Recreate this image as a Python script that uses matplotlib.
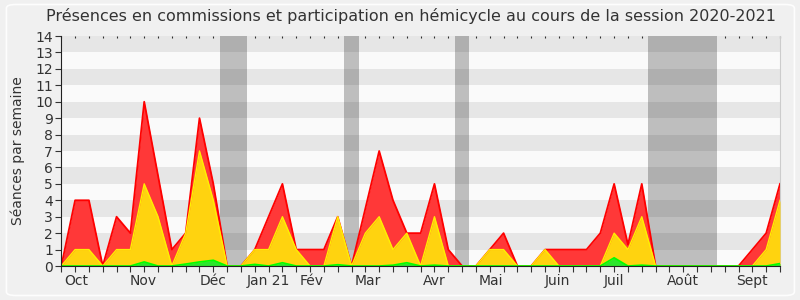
import numpy as np
import matplotlib.pyplot as plt
from matplotlib.patches import FancyBboxPatch

# one point per week of the 2020-2021 session
weeks = np.arange(53)

# top of the red layer (total)
total = [0, 4, 4, 0, 3, 2, 10, 5.5, 1, 2, 9, 5, 0, 0, 1, 3, 5, 1, 1, 1,
         3, 0, 3.5, 7, 4, 2, 2, 5, 1, 0, 0, 1, 2, 0, 0, 1, 1, 1, 1, 2,
         5, 1.3, 5, 0, 0, 0, 0, 0, 0, 0, 1, 2, 5]
# top of the yellow layer
yellow = [0, 1, 1, 0, 1, 1, 5, 3, 0, 2, 7, 4, 0, 0, 1, 1, 3, 1, 0, 0,
          3, 0, 2, 3, 1, 2, 0, 3, 0, 0, 0, 1, 1, 0, 0, 1, 0, 0, 0, 0,
          2, 1, 3, 0, 0, 0, 0, 0, 0, 0, 0, 1, 4]
# top of the green layer
green = [0, 0, 0, 0, 0, 0, 0.25, 0, 0, 0.12, 0.25, 0.35, 0, 0, 0.1, 0, 0.2, 0, 0, 0,
         0.08, 0, 0, 0, 0.05, 0.2, 0, 0.05, 0, 0, 0, 0, 0, 0, 0, 0, 0, 0, 0, 0,
         0.5, 0, 0.05, 0, 0, 0, 0, 0, 0, 0, 0, 0, 0.15]

# holidays (in weeks)
vacances = [(11.47, 13.47), (20.44, 21.52), (28.47, 29.48), (42.42, 47.47)]

month_pos = [1.1, 5.9, 11.0, 15.0, 18.1, 22.2, 27.0, 31.1, 35.9, 40.0, 45.0, 50.0]
month_labels = ['Oct', 'Nov', 'Déc', 'Jan 21', 'Fév', 'Mar', 'Avr', 'Mai',
                'Juin', 'Juil', 'Août', 'Sept']

txt = '#333333'

fig = plt.figure(figsize=(8, 3), dpi=100, facecolor='#F0F0F0')
fig.patches.append(FancyBboxPatch((0.008, 0.015), 0.985, 0.97,
                                  boxstyle='round,pad=0,rounding_size=0.012',
                                  transform=fig.transFigure, fc='none',
                                  ec='#FDFDFD', lw=1.2))

ax = fig.add_axes([0.0766, 0.1133, 0.8984, 0.7667])
ax.set_xlim(0, 52)
ax.set_ylim(0, 14)
ax.set_facecolor('#FAFAFA')

for a, b in vacances:
    ax.axvspan(a, b, color='#BEBEBE', lw=0, zorder=0.5)
for y in range(1, 14, 2):
    ax.axhspan(y, y + 1, color='black', alpha=0.08, lw=0, zorder=1)

ax.fill_between(weeks, 0, total, color='#FF3838', lw=0, zorder=2)
ax.plot(weeks, total, color='#FF0000', lw=1.3, zorder=3)
ax.fill_between(weeks, 0, yellow, color='#FFD30F', lw=0, zorder=4)
ax.plot(weeks, yellow, color='#FFF000', lw=1, zorder=5)
ax.fill_between(weeks, 0, green, color='#2CE62C', lw=0, zorder=6)
ax.plot(weeks, green, color='#00FF00', lw=1.2, zorder=7)

for s in ['left', 'bottom']:
    ax.spines[s].set_color('#222222')
    ax.spines[s].set_zorder(10)
ax.spines['right'].set_color('#CCCCCC')
ax.spines['top'].set_visible(False)

ax.set_yticks(range(15))
ax.tick_params(axis='y', length=4, color=txt, labelcolor=txt, labelsize=10, pad=2)

ax.xaxis.remove_overlapping_locs = False
ax.set_xticks(weeks, labels=[])
ax.set_xticks(month_pos, labels=month_labels, minor=True)
ax.tick_params(axis='x', which='major', length=4, color=txt)
ax.tick_params(axis='x', which='minor', length=0, pad=6, labelsize=10, labelcolor=txt)

top = ax.secondary_xaxis('top')
top.set_xticks(weeks, labels=[])
top.tick_params(direction='in', length=1.2, width=0.8, color=txt)
top.spines['top'].set_visible(False)

ax.set_ylabel('Séances par semaine', fontsize=10, color=txt, labelpad=7)
fig.text(0.514, 0.945, 'Présences en commissions et participation en hémicycle au cours de la session 2020-2021',
         ha='center', va='center', fontsize=11.5, color=txt)

fig.savefig('out.png', dpi=100, facecolor=fig.get_facecolor())
